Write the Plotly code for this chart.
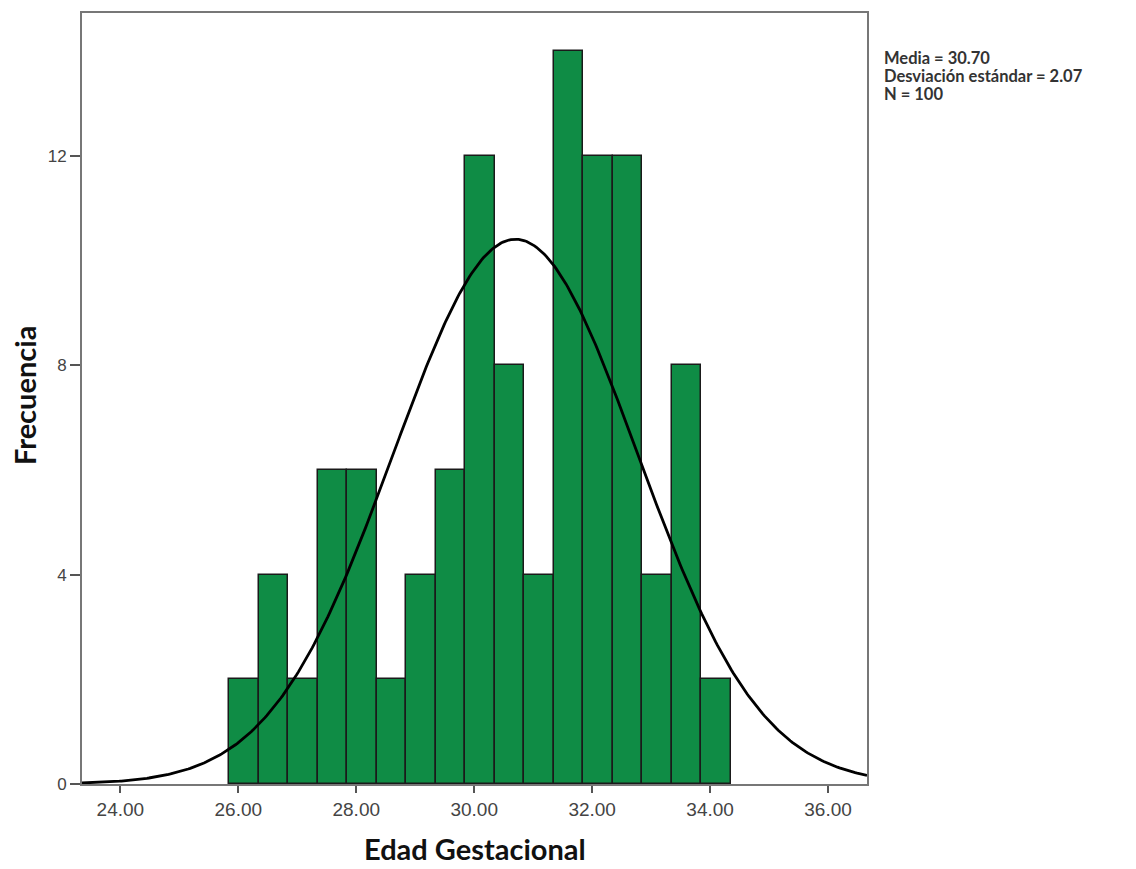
import numpy as np
import plotly.graph_objects as go

# Data
bin_start = 25.85
bin_width = 0.5
counts = [2, 4, 2, 6, 6, 2, 4, 6, 12, 8, 4, 14, 12, 12, 4, 8, 2]
media = 30.70
desviacion = 2.07
n_label = 100
x_ticks = [24, 26, 28, 30, 32, 34, 36]
y_ticks = [0, 4, 8, 12]
x_range = [23.35, 36.66]
y_range = [0, 14.73]

centers = [bin_start + bin_width * (i + 0.5) for i in range(len(counts))]

# Normal curve fitted from the stated mean and sd, scaled to the histogram
xs = np.linspace(x_range[0], x_range[1], 400)
scale = sum(counts) * bin_width
ys = scale / (desviacion * np.sqrt(2 * np.pi)) * np.exp(-0.5 * ((xs - media) / desviacion) ** 2)

fig = go.Figure()
fig.add_trace(go.Bar(
    x=centers, y=counts, width=bin_width,
    marker=dict(color="#0f8c45", line=dict(color="#1a1a1a", width=1.5)),
    hoverinfo="x+y", showlegend=False,
))
fig.add_trace(go.Scatter(
    x=xs, y=ys, mode="lines",
    line=dict(color="#000000", width=2.8),
    hoverinfo="skip", showlegend=False,
))

stats_lines = [
    f"<b>Media = {media:.2f}</b>",
    f"<b>Desviación estándar = {desviacion:.2f}</b>",
    f"<b>N = {n_label}</b>",
]
stats_ann = [
    dict(text=t, xref="paper", yref="paper",
         x=(882 - 82) / 785, y=(784 - (56 + 18 * i)) / 773,
         xanchor="left", yanchor="middle", align="left", showarrow=False,
         font=dict(family="Lato", size=16.5, color="#333"))
    for i, t in enumerate(stats_lines)
]

fig.update_layout(
    width=1136, height=869,
    margin=dict(l=82, r=269, t=11, b=85),
    paper_bgcolor="white", plot_bgcolor="white",
    bargap=0,
    xaxis=dict(
        range=x_range, tickvals=x_ticks, ticktext=[f"{v:.2f}" for v in x_ticks],
        ticks="outside", ticklen=7, tickwidth=1.5, tickcolor="#555",
        showline=True, linecolor="#777", linewidth=2, mirror=True,
        showgrid=False, zeroline=False,
        tickfont=dict(family="Liberation Sans, Arial", size=19, color="#444"),
    ),
    yaxis=dict(
        range=y_range, tickvals=y_ticks,
        ticks="outside", ticklen=10, tickwidth=1.5, tickcolor="#555",
        showline=True, linecolor="#777", linewidth=2, mirror=True,
        showgrid=False, zeroline=False,
        tickfont=dict(family="Liberation Sans, Arial", size=17, color="#444"),
    ),
    annotations=[
        dict(text="<b>Edad Gestacional</b>", xref="paper", yref="paper",
             x=(475 - 82) / 785, y=(784 - 849) / 773, xanchor="center", yanchor="middle",
             showarrow=False, font=dict(family="Lato", size=29, color="#111")),
        dict(text="<b>Frecuencia</b>", xref="paper", yref="paper",
             x=(24 - 82) / 785, y=(784 - 395) / 773, xanchor="center", yanchor="middle",
             textangle=-90, showarrow=False, font=dict(family="Lato", size=29, color="#111")),
    ] + stats_ann,
)

fig.write_html("out.html")
